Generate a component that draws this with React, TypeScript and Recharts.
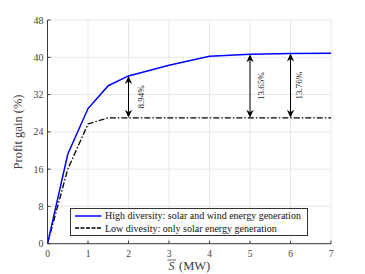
import React from 'react';
import {
    LineChart,
    Line,
    XAxis,
    YAxis,
    CartesianGrid,
    ReferenceLine,
} from 'recharts';

// installed capacity S (MW)
const capacity = [0, 0.5, 1, 1.5, 2, 3, 4, 5, 6, 7];
// profit gain (%) per series
const highDiversity = [0, 19.2, 29.0, 33.9, 36.0, 38.3, 40.2, 40.65, 40.8, 40.85];
const lowDiversity = [0, 16.0, 25.7, 27.0, 27.0, 27.0, 27.0, 27.0, 27.0, 27.0];

const xTicks = [0, 1, 2, 3, 4, 5, 6, 7];
const yTicks = [0, 8, 16, 24, 32, 40, 48];

// gap arrows between both curves
const gapAt = [2, 5, 6];
const gapTop = [36.0, 40.65, 40.8];
const gapBottom = [27.0, 27.0, 27.0];
const gapLabels = ['8.94%', '13.65%', '13.76%'];

const seriesNames = [
    'High diversity: solar and wind energy generation',
    'Low divesity: only solar energy generation',
];

const data = capacity.map((s, i) => ({
    s,
    high: highDiversity[i],
    low: lowDiversity[i],
}));

const FONT = '"Liberation Serif", "DejaVu Serif", serif';
const AXIS = '#3a3a3a';
const TEXT = '#404040';
const LABEL_Y = 33.6; // where the rotated % labels sit
const labelDx = [13, 11, 8.5];

function Arrowhead({ x, y, dir }: { x: number; y: number; dir: 1 | -1 }) {
    // dir = 1 points up, -1 points down
    const len = 8;
    const half = 3.6;
    const notch = 5.5;
    const pts = [
        [x, y],
        [x - half, y + dir * len],
        [x, y + dir * notch],
        [x + half, y + dir * len],
    ]
        .map((p) => p.join(','))
        .join(' ');
    return <polygon points={pts} fill="#000" />;
}

function makeGapShape(i: number) {
    return (props: any) => {
        const { x1, y1, x2, y2, yAxis } = props;
        const top = Math.min(y1, y2);
        const bottom = Math.max(y1, y2);
        const ly = yAxis && yAxis.scale ? yAxis.scale(LABEL_Y) : (top + bottom) / 2;
        const lx = x1 + labelDx[i];
        return (
            <g>
                <line x1={x1} y1={top + 3} x2={x2} y2={bottom - 3} stroke="#000" strokeWidth={1} />
                <Arrowhead x={x1} y={top} dir={1} />
                <Arrowhead x={x1} y={bottom} dir={-1} />
                <text
                    x={lx}
                    y={ly}
                    transform={`rotate(-90 ${lx} ${ly})`}
                    textAnchor="middle"
                    dominantBaseline="central"
                    fontFamily={FONT}
                    fontSize={9}
                    fill="#222"
                >
                    {gapLabels[i]}
                </text>
            </g>
        );
    };
}

function BottomTick(props: any) {
    const { x, y, payload } = props;
    return (
        <g>
            <line x1={x} y1={y} x2={x} y2={y - 3} stroke={AXIS} />
            <text x={x} y={y + 13.3} textAnchor="middle" fontFamily={FONT} fontSize={9.5} fill={TEXT}>
                {payload.value}
            </text>
        </g>
    );
}

function LeftTick(props: any) {
    const { x, y, payload } = props;
    return (
        <g>
            <line x1={x} y1={y} x2={x + 3} y2={y} stroke={AXIS} />
            <text x={x - 4} y={y + 3.5} textAnchor="end" fontFamily={FONT} fontSize={10} fill={TEXT}>
                {payload.value}
            </text>
        </g>
    );
}

function TopTick(props: any) {
    const { x, y } = props;
    return <line x1={x} y1={y} x2={x} y2={y + 3} stroke={AXIS} />;
}

function RightTick(props: any) {
    const { x, y } = props;
    return <line x1={x} y1={y} x2={x - 3} y2={y} stroke={AXIS} />;
}

function LegendBox({ x, y }: { x: number; y: number }) {
    return (
        <g transform={`translate(${x} ${y})`}>
            <rect x={0.5} y={0.5} width={237} height={27} fill="#fff" stroke="#333" strokeWidth={1} />
            <line x1={5} y1={8} x2={31.5} y2={8} stroke="#0000ff" strokeWidth={1.5} />
            <line x1={5} y1={20} x2={31.5} y2={20} stroke="#000" strokeWidth={1.3} strokeDasharray="4 1.5" />
            <text x={35} y={11.3} fontFamily={FONT} fontSize={10} fill="#111">
                {seriesNames[0]}
            </text>
            <text x={35} y={23.5} fontFamily={FONT} fontSize={10} fill="#111">
                {seriesNames[1]}
            </text>
        </g>
    );
}

export default function App() {
    return (
        <div style={{ position: 'fixed', left: 0, top: 0, width: 365, height: 274, background: '#fff' }}>
            <LineChart
                width={365}
                height={274}
                data={data}
                margin={{ top: 20, right: 34, left: 0, bottom: 0 }}
            >
                <CartesianGrid stroke="#e8e8e8" strokeWidth={1} />
                <XAxis
                    dataKey="s"
                    type="number"
                    domain={[0, 7]}
                    ticks={xTicks}
                    height={30.3}
                    tickSize={0}
                    tickMargin={0}
                    tick={<BottomTick />}
                    axisLine={{ stroke: AXIS }}
                    tickLine={false}
                    interval={0}
                />
                <XAxis
                    xAxisId="top"
                    orientation="top"
                    dataKey="s"
                    type="number"
                    domain={[0, 7]}
                    ticks={xTicks}
                    height={0}
                    tickSize={0}
                    tickMargin={0}
                    tick={<TopTick />}
                    axisLine={{ stroke: AXIS }}
                    tickLine={false}
                    interval={0}
                />
                <YAxis
                    type="number"
                    domain={[0, 48]}
                    ticks={yTicks}
                    width={47.5}
                    tickSize={0}
                    tickMargin={0}
                    tick={<LeftTick />}
                    axisLine={{ stroke: AXIS }}
                    tickLine={false}
                    interval={0}
                />
                <YAxis
                    yAxisId="right"
                    orientation="right"
                    type="number"
                    domain={[0, 48]}
                    ticks={yTicks}
                    width={0}
                    tickSize={0}
                    tickMargin={0}
                    tick={<RightTick />}
                    axisLine={{ stroke: AXIS }}
                    tickLine={false}
                    interval={0}
                />
                <Line
                    type="linear"
                    dataKey="low"
                    stroke="#000"
                    strokeWidth={1.3}
                    strokeDasharray="6 2 1.5 2"
                    dot={false}
                    isAnimationActive={false}
                />
                <Line
                    type="linear"
                    dataKey="high"
                    stroke="#0000ff"
                    strokeWidth={1.5}
                    dot={false}
                    isAnimationActive={false}
                />
                {gapAt.map((x, i) => (
                    <ReferenceLine
                        key={x}
                        segment={[
                            { x, y: gapTop[i] },
                            { x, y: gapBottom[i] },
                        ]}
                        shape={makeGapShape(i)}
                    />
                ))}
            </LineChart>
            <svg
                width={365}
                height={274}
                style={{ position: 'absolute', left: 0, top: 0, pointerEvents: 'none' }}
            >
                <LegendBox x={70} y={208} />
                <text
                    x={0}
                    y={0}
                    transform="translate(22 132) rotate(-90)"
                    textAnchor="middle"
                    fontFamily={FONT}
                    fontSize={12.5}
                    fill={TEXT}
                >
                    Profit gain (%)
                </text>
                {/* x label: S with overline, then (MW) */}
                <line x1={167.5} y1={260} x2={176} y2={260} stroke={TEXT} strokeWidth={0.8} />
                <text x={171.5} y={269.5} textAnchor="middle" fontFamily={FONT} fontSize={12} fontStyle="italic" fill={TEXT}>
                    S
                </text>
                <text x={179} y={269.5} textAnchor="start" fontFamily={FONT} fontSize={12.5} fill={TEXT}>
                    (MW)
                </text>
            </svg>
        </div>
    );
}
